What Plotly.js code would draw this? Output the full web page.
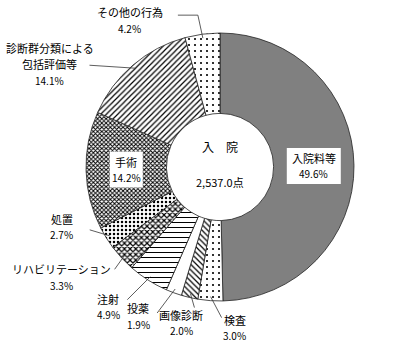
<!DOCTYPE html>
<html><head><meta charset="utf-8">
<script src="https://cdn.plot.ly/plotly-3.0.1.min.js"></script>
<style>html,body{margin:0;padding:0;background:#fff}#chart{width:419px;height:350px}</style>
</head><body><div id="chart"></div>
<script>
// ---- data ----
const categories = ["入院料等","検査","画像診断","投薬","注射","リハビリテーション","処置","手術","診断群分類による包括評価等","その他の行為"];
const shares = [49.6, 3.0, 2.0, 1.9, 4.9, 3.3, 2.7, 14.2, 14.1, 4.2];
const nameLines = [["入院料等"],["検査"],["画像診断"],["投薬"],["注射"],["リハビリテーション"],["処置"],["手術"],["診断群分類による","包括評価等"],["その他の行為"]];
const centerTitle = "入　院";
const centerTotal = "2,537.0点";

// ---- styles / layout ----
const W = 419, H = 350;
const CX = 220, CY = 167, R = 134, HOLE = 0.4;
const LINE_GAP = 16;
const fills   = ["#808080","#fff","#fff","#fff","#fff","#fff","#fff","#fff","#fff","#fff"];
const shapes  = ["", ".", "\\", "", "-", "x", ".", "x", "/", "."];
const psize   = [8, 6, 4, 8, 5, 4, 4, 3, 4, 6];
const psolid  = [0.3, 0.1, 0.3, 0.3, 0.2, 0.5, 0.3, 0.55, 0.3, 0.1];
// inside labels: white box size [w,h]; outside: text offset, leader end, optional elbow (pixels, relative to leader tip)
const labelPlace = [
  {box:[54,36]},
  {text:[24,31], end:[11,21]},
  {text:[-9,29], end:[4,14]},
  {text:[-37,27], end:[-18,24]},
  {text:[-42,30], end:[-23,23]},
  {text:[-63,22], end:[-10,14]},
  {text:[-48,-9], end:[-20,-6]},
  {box:[33,36]},
  {text:[-86,-4], end:[-46,-3]},
  {text:[-73,-18], end:[-25,-23], elbow:[-5,-23]}
];

const px = x => x/W, py = y => 1 - y/H;
const total = shares.reduce((a,b)=>a+b,0);
const ann = [], shp = [];
function txt(x, y, t, s){
  ann.push({x:px(x), y:py(y), xref:'paper', yref:'paper', xanchor:'center', yanchor:'middle',
    text:t, showarrow:false, font:{size:s,color:'#000'}});
}
let cum = 0;
shares.forEach((v,i)=>{
  const mid = (cum + v/2)/total*2*Math.PI; cum += v;
  const p = labelPlace[i];
  const lines = nameLines[i].map(t=>({t, s:11})).concat([{t:v.toFixed(1)+"%", s:10}]);
  if (p.box) {
    const r = R*(1+HOLE)/2;
    const x = CX + r*Math.sin(mid), y = CY - r*Math.cos(mid);
    shp.push({type:'rect', xref:'paper', yref:'paper', x0:px(x-p.box[0]/2), x1:px(x+p.box[0]/2),
      y0:py(y+p.box[1]/2), y1:py(y-p.box[1]/2), fillcolor:'#fff', line:{width:0}});
    lines.forEach((ln,k)=> txt(x, y + (k-(lines.length-1)/2)*15, ln.t, ln.s));
  } else {
    const r = R*0.97;
    const tx = CX + r*Math.sin(mid), ty = CY - r*Math.cos(mid);
    let path = `M${px(tx)},${py(ty)}`;
    if (p.elbow) path += ` L${px(tx+p.elbow[0])},${py(ty+p.elbow[1])}`;
    path += ` L${px(tx+p.end[0])},${py(ty+p.end[1])}`;
    shp.push({type:'path', xref:'paper', yref:'paper', path, line:{color:'#333', width:0.8}});
    const cx = tx+p.text[0], cy = ty+p.text[1];
    lines.forEach((ln,k)=> txt(cx, cy + (k-(lines.length-1)/2)*LINE_GAP, ln.t, ln.s));
  }
});
txt(CX, CY-20, centerTitle, 12);
txt(CX, CY+15, centerTotal, 11);

const trace = {
  type:'pie', labels:categories, values:shares, sort:false, direction:'clockwise', rotation:0,
  hole:HOLE, textinfo:'none', hoverinfo:'none',
  domain:{x:[(CX-R)/W,(CX+R)/W], y:[1-(CY+R)/H, 1-(CY-R)/H]},
  marker:{colors:fills, line:{color:'#222', width:0.8},
    pattern:{shape:shapes, size:psize, solidity:psolid, fgcolor:'#000', bgcolor:fills, fillmode:'replace'}}
};
Plotly.newPlot('chart',[trace],{
  width:W, height:H, margin:{l:0,r:0,t:0,b:0}, showlegend:false,
  paper_bgcolor:'#fff', plot_bgcolor:'#fff',
  font:{family:'"Noto Sans CJK JP", "Noto Sans", sans-serif', size:11, color:'#000'},
  annotations:ann, shapes:shp
},{staticPlot:true});
</script></body></html>
